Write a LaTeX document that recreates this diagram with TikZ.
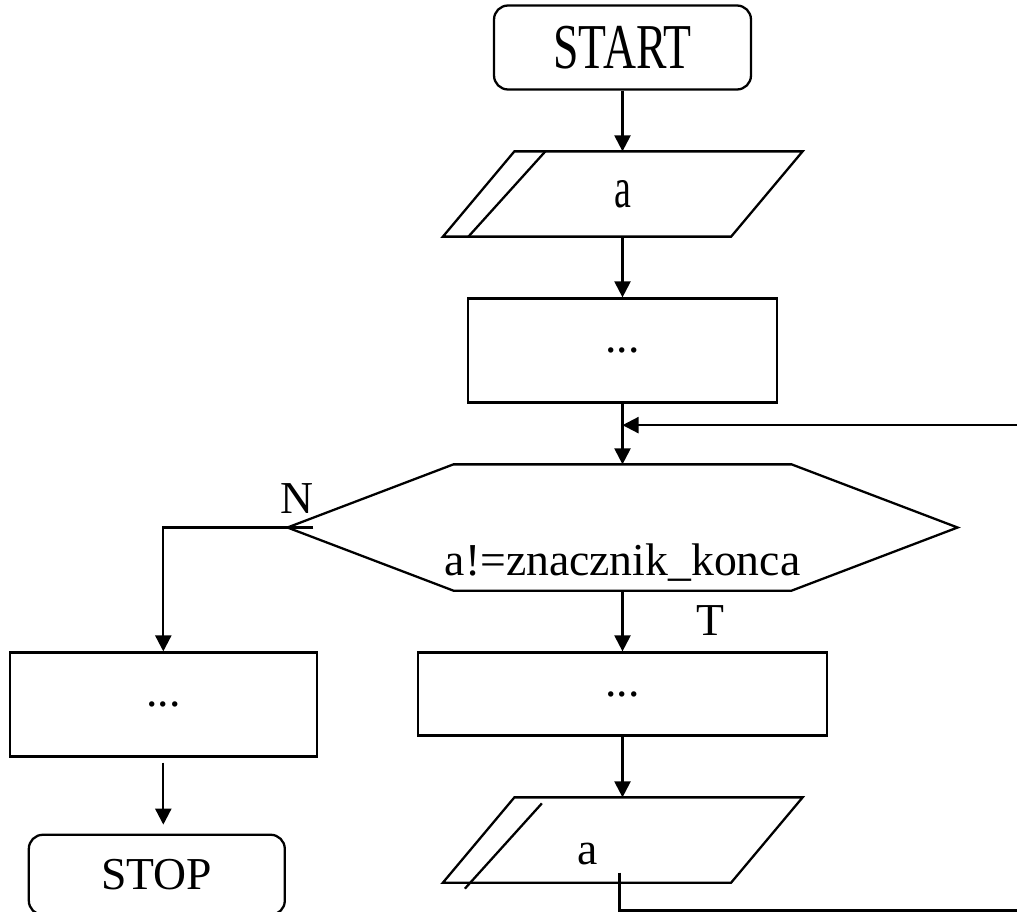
\documentclass[tikz,border=0pt]{standalone}
\usepackage{fontspec}
\setmainfont{Liberation Serif}
\usetikzlibrary{arrows.meta,positioning,calc}

\begin{document}
\begin{tikzpicture}[
            x = 0.02cm, y = -0.02cm,
            node distance = 1.215cm,
            line width = 1.3pt,
            >={Triangle[width=0.32cm,length=0.32cm]},
            every node/.style = {font=\fontsize{26}{31}\selectfont},
            term/.style = {rectangle, draw, rounded corners=0.28cm, minimum width=5.14cm, minimum height=1.68cm, inner sep=0pt},
            block/.style = {rectangle, draw, minimum width=6.18cm, minimum height=2.08cm, inner sep=0pt},
            io/.style = {rectangle, minimum width=5.72cm, minimum height=1.66cm, inner sep=0pt},
            decision/.style = {rectangle, minimum width=6.72cm, minimum height=2.48cm, inner sep=0pt}
        ]
        \useasboundingbox (0,0) rectangle (1017,912);

        % Glowna kolumna
        \node [term] (start) at (622.5,47.5) {\scalebox{1}[1.4]{START}};
        \node [io, below=of start] (in1) {\scalebox{0.83}[1.26]{a}};
        \node [block, below=of in1] (proc1) {...};
        \node [decision, below=of proc1] (dec) {\raisebox{-0.95cm}[0pt][0pt]{\makebox[0pt]{a!=znacznik\_konca}}};
        \node [block, minimum width=8.18cm, minimum height=1.66cm, below=of dec] (proc2) {...};
        \node [io, below=of proc2] (in2) {\raisebox{-0.49cm}[0pt][0pt]{\makebox[0pt]{a\hspace{1.4cm}}}};

        % Galaz N
        \node [block, minimum width=6.14cm, left=1.98cm of proc2.north west, anchor=north east] (left) {...};
        \node [term, minimum width=5.12cm, minimum height=1.6cm, below=1.52cm of left, xshift=-0.13cm] (stop) {STOP};

        % Ksztalty wejscia/wyjscia i warunku
        \draw ($(in1.north west)+(0.72cm,0)$) -- ($(in1.north east)+(0.72cm,0)$) -- ($(in1.south east)+(-0.71cm,0)$) -- ($(in1.south west)+(-0.71cm,0)$) -- cycle;
        \draw ($(in1.north west)+(1.34cm,0)$) -- ($(in1.south west)+(-0.2cm,0)$);
        \draw ($(in2.north west)+(0.72cm,0)$) -- ($(in2.north east)+(0.72cm,0)$) -- ($(in2.south east)+(-0.71cm,0)$) -- ($(in2.south west)+(-0.71cm,0)$) -- cycle;
        \draw ($(in2.north west)+(1.27cm,-0.12cm)$) -- ($(in2.south west)+(-0.27cm,-0.12cm)$);
        \draw (dec.north west) -- (dec.north east) -- ($(dec.east)+(3.32cm,0)$) -- (dec.south east) -- (dec.south west) -- ($(dec.west)+(-3.32cm,0)$) -- cycle;

        % Etykiety
        \node (nlab) at ($(dec.west)+(-3.12cm,0.58cm)$) {N};
        \node (tlab) at ($(dec.south)+(1.76cm,-0.59cm)$) {T};

        % Strzalki
        \draw [->] (start) -- (in1);
        \draw [->] (in1) -- (proc1);
        \draw [->] (proc1) -- (dec);
        \draw [->] (dec) -- (proc2);
        \draw [->] (proc2) -- (in2);
        \coordinate (nout) at ($(dec.west)+(-2.8cm,0)$);
        \draw [->] (nout) -| (left.north);
        \draw [->, shorten <=0.1cm, shorten >=0.18cm] (left.south) -- (left.south |- stop.north);

        % Powrot petli
        \coordinate (join) at ($(proc1.south)+(0,-0.43cm)$);
        \coordinate (loopin) at ($(in2.south)+(-0.06cm,0.2cm)$);
        \coordinate (back) at (1030,910.5);
        \draw [->] (loopin) |- (back) |- (join);

    \end{tikzpicture}
\end{document}
